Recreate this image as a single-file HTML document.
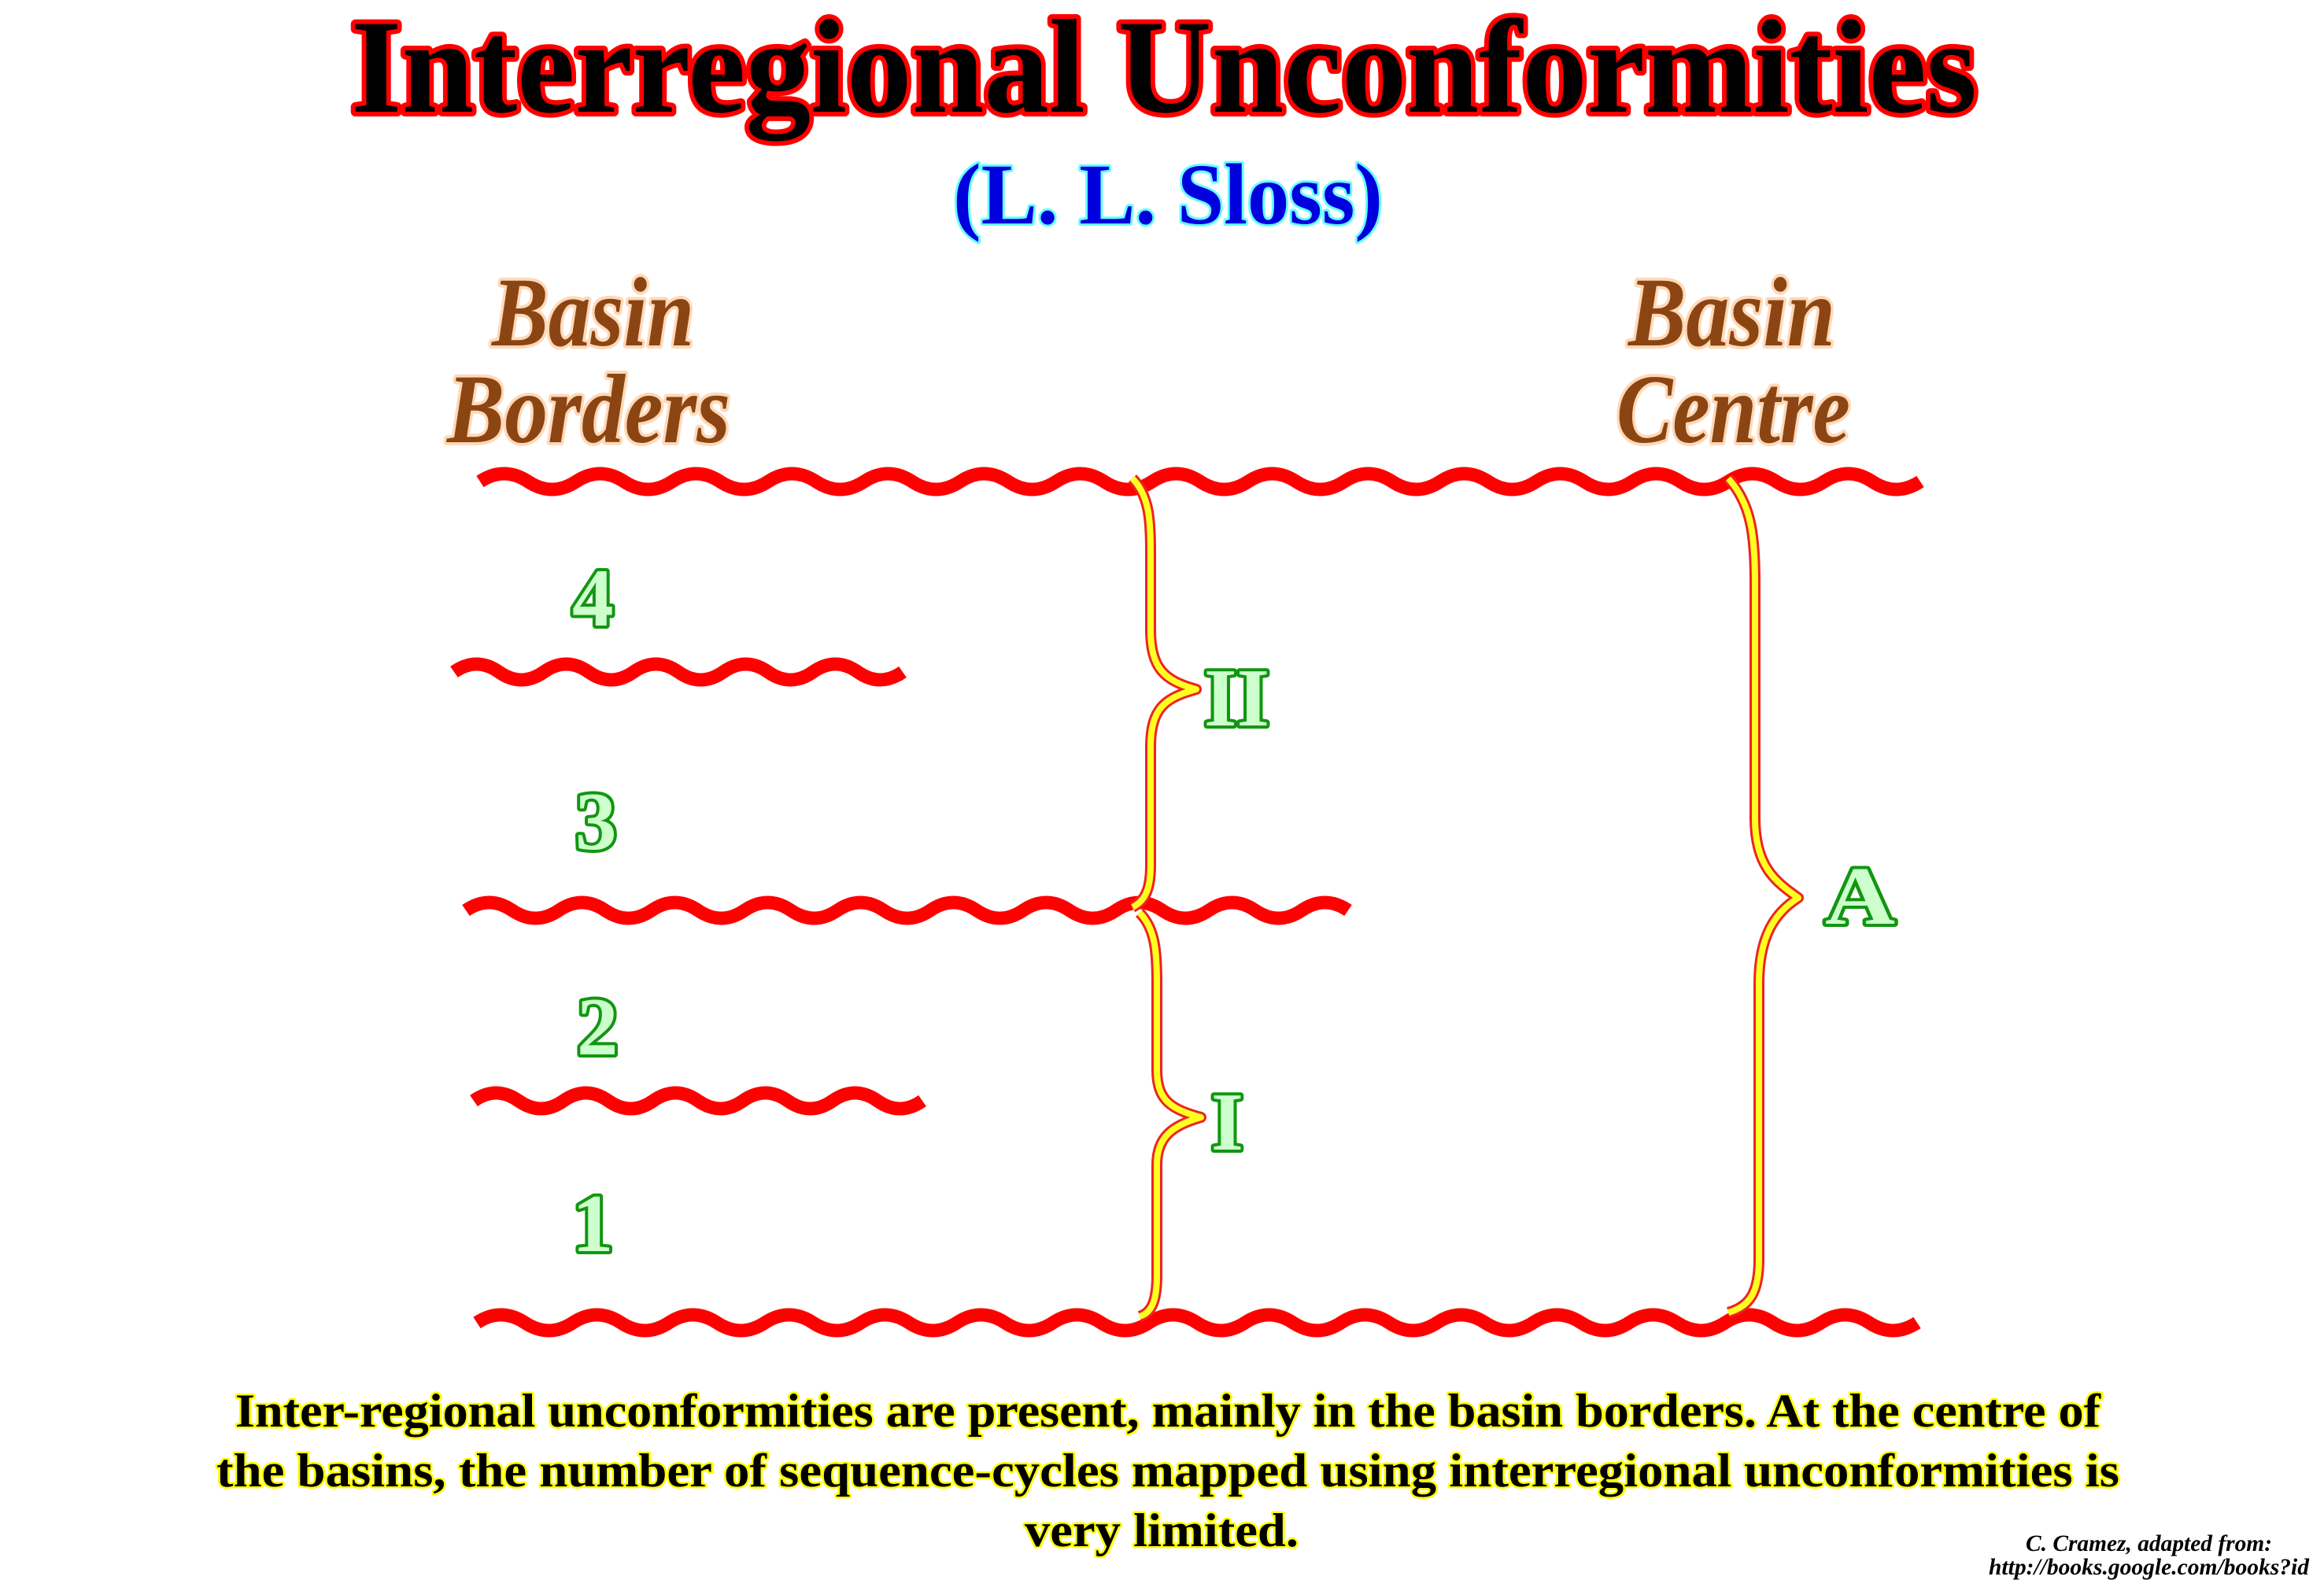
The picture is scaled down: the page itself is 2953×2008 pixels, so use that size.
<!DOCTYPE html>
<html><head><meta charset="utf-8"><style>
html,body{margin:0;padding:0;background:#fff;}
svg{display:block;}
.t{font-family:"Liberation Serif",serif;font-weight:bold;paint-order:stroke;stroke-linejoin:round;}
</style></head><body>
<svg width="2953" height="2008" viewBox="0 0 2953 2008" xmlns="http://www.w3.org/2000/svg">
<text class="t" x="446" y="142" font-size="170" textLength="2066" lengthAdjust="spacingAndGlyphs" fill="#000" stroke="#ff0000" stroke-width="12">Interregional Unconformities</text>
<text class="t" x="1211" y="284" font-size="110" textLength="546" lengthAdjust="spacingAndGlyphs" fill="#0000dd" stroke="#66ffff" stroke-width="6">(L. L. Sloss)</text>
<g class="t" font-style="italic" font-size="125" fill="#8b4513" stroke="#ffd9b8" stroke-width="8">
<text x="625" y="439" textLength="257" lengthAdjust="spacingAndGlyphs">Basin</text>
<text x="568" y="562" textLength="360" lengthAdjust="spacingAndGlyphs">Borders</text>
<text x="2069" y="439" textLength="263" lengthAdjust="spacingAndGlyphs">Basin</text>
<text x="2054" y="562" textLength="297" lengthAdjust="spacingAndGlyphs">Centre</text>
</g>
<g fill="none" stroke="#ff0000" stroke-width="17" stroke-linecap="butt">
<path d="M610 612 q30.5 -20 61 0 t61 0 t61 0 t61 0 t61 0 t61 0 t61 0 t61 0 t61 0 t61 0 t61 0 t61 0 t61 0 t61 0 t61 0 t61 0 t61 0 t61 0 t61 0 t61 0 t61 0 t61 0 t61 0 t61 0 t61 0 t61 0 t61 0 t61 0 t61 0 t61 0"/>
<path d="M577 854 q28.5 -20 57 0 t57 0 t57 0 t57 0 t57 0 t57 0 t57 0 t57 0 t57 0 t57 0"/>
<path d="M592 1157 q29.5 -20 59 0 t59 0 t59 0 t59 0 t59 0 t59 0 t59 0 t59 0 t59 0 t59 0 t59 0 t59 0 t59 0 t59 0 t59 0 t59 0 t59 0 t59 0 t59 0"/>
<path d="M602 1399 q28.5 -20 57 0 t57 0 t57 0 t57 0 t57 0 t57 0 t57 0 t57 0 t57 0 t57 0"/>
<path d="M606 1681 q30.5 -20 61 0 t61 0 t61 0 t61 0 t61 0 t61 0 t61 0 t61 0 t61 0 t61 0 t61 0 t61 0 t61 0 t61 0 t61 0 t61 0 t61 0 t61 0 t61 0 t61 0 t61 0 t61 0 t61 0 t61 0 t61 0 t61 0 t61 0 t61 0 t61 0 t61 0"/>
</g>
<g fill="none" stroke-linejoin="round">
<g stroke="#ee2222" stroke-width="14">
<path id="b2" d="M1439 608 C1460 630 1462 660 1462 700 L1462 800 C1462 850 1480 865 1520 876 C1480 887 1462 900 1462 950 L1462 1100 C1462 1130 1455 1145 1439 1153"/>
<path id="b1" d="M1448 1160 C1468 1180 1470 1210 1470 1250 L1470 1360 C1470 1400 1490 1410 1526 1420 C1490 1430 1470 1445 1470 1480 L1470 1620 C1470 1650 1465 1668 1448 1673"/>
<path id="ba" d="M2196 608 C2225 640 2230 680 2230 740 L2230 1040 C2230 1100 2255 1120 2285 1141 C2255 1160 2235 1190 2235 1250 L2235 1600 C2235 1640 2225 1660 2196 1668"/>
</g>
<g stroke="#ffff22" stroke-width="8">
<use href="#b2"/><use href="#b1"/><use href="#ba"/>
</g>
</g>
<g class="t" font-size="105" fill="#ccffcc" stroke="#129612" stroke-width="8">
<text x="727" y="795">4</text>
<text x="731" y="1079">3</text>
<text x="733" y="1340">2</text>
<text x="727" y="1590">1</text>
<text x="1530" y="922" textLength="83" lengthAdjust="spacingAndGlyphs">II</text>
<text x="1539" y="1461">I</text>
<text x="2319" y="1174" textLength="89" lengthAdjust="spacingAndGlyphs">A</text>
</g>
<g class="t" font-size="60" fill="#000" stroke="#ffff00" stroke-width="5" text-anchor="middle">
<text x="1484" y="1813" textLength="2370" lengthAdjust="spacingAndGlyphs">Inter-regional unconformities are present, mainly in the basin borders. At the centre of</text>
<text x="1484" y="1889" textLength="2418" lengthAdjust="spacingAndGlyphs">the basins, the number of sequence-cycles mapped using interregional unconformities is</text>
<text x="1476" y="1965" textLength="348" lengthAdjust="spacingAndGlyphs">very limited.</text>
</g>
<g font-family="Liberation Serif,serif" font-weight="bold" font-style="italic" font-size="30" fill="#000" text-anchor="end">
<text x="2887" y="1971" textLength="313" lengthAdjust="spacingAndGlyphs">C. Cramez, adapted from:</text>
<text x="2934" y="2001" textLength="407" lengthAdjust="spacingAndGlyphs">http://books.google.com/books?id</text>
</g>
</svg>
</body></html>
